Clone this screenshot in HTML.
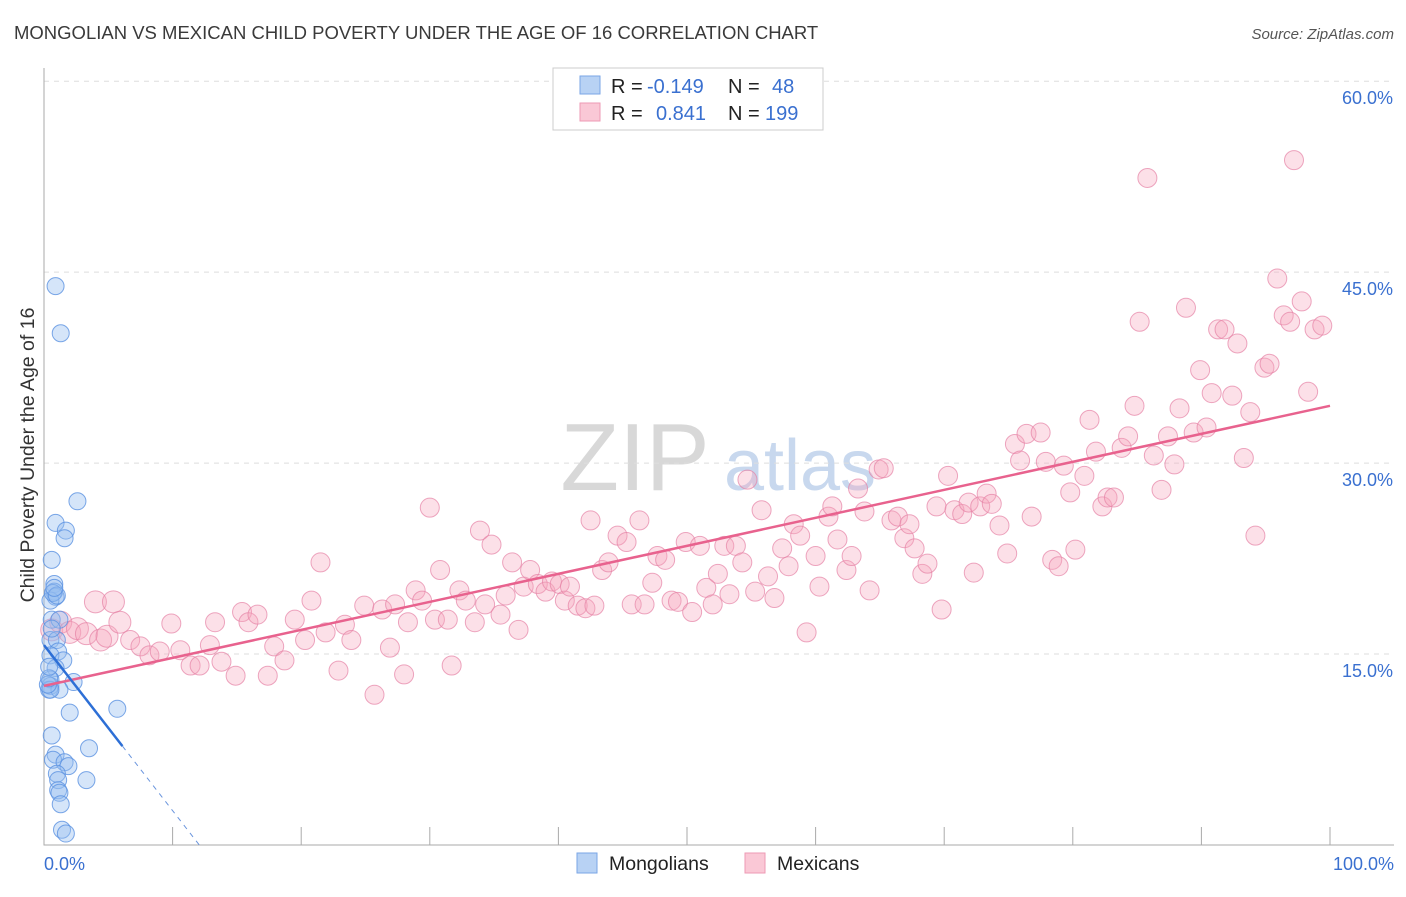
<!DOCTYPE html>
<html><head><meta charset="utf-8"><style>
body{margin:0;background:#fff;font-family:"Liberation Sans",sans-serif}
svg text{font-family:"Liberation Sans",sans-serif}
</style></head><body>
<svg id="chart" width="1406" height="892" xmlns="http://www.w3.org/2000/svg">
<text x="14" y="39" font-size="18.5" fill="#3a3a3a">MONGOLIAN VS MEXICAN CHILD POVERTY UNDER THE AGE OF 16 CORRELATION CHART</text>
<text x="1394" y="39" font-size="15" fill="#555" font-style="italic" text-anchor="end">Source: ZipAtlas.com</text>
<text transform="translate(34,455) rotate(-90)" font-size="19.5" fill="#333" text-anchor="middle">Child Poverty Under the Age of 16</text>
<g>
<text x="635" y="490" font-size="96" fill="#d8d8d8" font-family="Liberation Serif" text-anchor="middle">ZIP</text>
<text x="800" y="490" font-size="72" fill="#c8d8ee" text-anchor="middle">atlas</text>
</g>
<g id="grid"></g><g id="axes"></g><g id="pts"></g><g id="lines"></g>
<g>
<rect x="553" y="68" width="270" height="62" fill="#fff" stroke="#ccc"/>
<rect x="580" y="76" width="20" height="18" fill="#b8d2f4" stroke="#7aa6e6"/>
<rect x="580" y="103" width="20" height="18" fill="#fac8d6" stroke="#ee9ab4"/>
<text x="611" y="93" font-size="20" fill="#222">R =</text>
<text x="647" y="93" font-size="20" fill="#3a70d0">-0.149</text>
<text x="728" y="93" font-size="20" fill="#222">N =</text>
<text x="772" y="93" font-size="20" fill="#3a70d0">48</text>
<text x="611" y="120" font-size="20" fill="#222">R =</text>
<text x="656" y="120" font-size="20" fill="#3a70d0">0.841</text>
<text x="728" y="120" font-size="20" fill="#222">N =</text>
<text x="765" y="120" font-size="20" fill="#3a70d0">199</text>
</g>
<g>
<rect x="577" y="853" width="20" height="20" fill="#b8d2f4" stroke="#7aa6e6"/>
<text x="609" y="870" font-size="19.5" fill="#222">Mongolians</text>
<rect x="745" y="853" width="20" height="20" fill="#fac8d6" stroke="#ee9ab4"/>
<text x="777" y="870" font-size="19.5" fill="#222">Mexicans</text>
</g>
</svg>
<script>
const yTicks=[15,30,45,60];
const yTickLabels=["15.0%","30.0%","45.0%","60.0%"];
const xEndLabels=["0.0%","100.0%"];
const blueX=[0.9,1.3,2.6,0.9,1.7,1.6,0.6,0.8,0.8,0.9,0.5,0.6,1.2,0.5,1.0,1.1,0.5,1.5,0.9,0.5,0.5,0.4,2.3,1.2,2.0,5.7,0.6,3.5,0.9,0.7,1.6,1.9,1.0,1.1,3.3,1.1,1.2,1.3,1.4,1.7,0.5,0.7,0.3,0.4,1.0,0.8,0.6,0.4];
const blueY=[43.9,40.2,27.0,25.3,24.7,24.1,22.4,20.5,19.9,19.5,19.2,17.7,17.7,16.1,16.1,15.2,14.9,14.5,13.9,13.0,12.5,12.2,12.8,12.2,10.4,10.7,8.6,7.6,7.1,6.7,6.5,6.2,5.6,5.1,5.1,4.3,4.1,3.2,1.2,0.9,12.2,19.8,12.6,13.1,19.6,20.2,17.0,14.0];
const pinkX=[4.0,5.4,0.6,1.3,2.0,2.6,3.3,4.4,4.9,5.9,6.7,7.5,8.2,9.0,9.9,10.6,11.4,12.1,12.9,13.3,13.8,14.9,15.4,15.9,16.6,17.4,17.9,18.7,19.5,20.3,20.8,21.5,21.9,22.9,23.4,23.9,24.9,25.7,26.3,26.9,27.3,28.0,28.3,28.9,29.4,30.0,30.4,30.8,31.4,31.7,32.3,32.8,33.5,33.9,34.3,34.8,35.5,35.9,36.4,36.9,37.3,37.8,38.4,39.0,39.5,40.1,40.5,40.9,41.5,42.1,42.5,42.8,43.4,43.9,44.6,45.3,45.7,46.3,46.7,47.3,47.7,48.3,48.8,49.3,49.9,50.4,51.0,51.5,52.0,52.4,52.9,53.3,53.8,54.3,54.7,55.3,55.8,56.3,56.8,57.4,57.9,58.3,58.8,59.3,60.0,60.3,61.0,61.3,61.7,62.4,62.8,63.3,63.8,64.2,64.9,65.3,65.9,66.4,66.9,67.3,67.7,68.3,68.7,69.4,69.8,70.3,70.8,71.4,71.9,72.3,72.8,73.3,73.7,74.3,74.9,75.5,75.9,76.4,76.8,77.5,77.9,78.4,78.9,79.3,79.8,80.2,80.9,81.3,81.8,82.3,82.7,83.2,83.8,84.3,84.8,85.2,85.8,86.3,86.9,87.4,87.9,88.3,88.8,89.4,89.9,90.4,90.8,91.3,91.8,92.4,92.8,93.3,93.8,94.2,94.9,95.3,95.9,96.4,96.9,97.2,97.8,98.3,98.8,99.4];
const pinkY=[19.1,19.1,16.9,17.5,16.7,17.0,16.6,16.1,16.4,17.5,16.1,15.6,14.9,15.2,17.4,15.3,14.1,14.1,15.7,17.5,14.4,13.3,18.3,17.5,18.1,13.3,15.6,14.5,17.7,16.1,19.2,22.2,16.7,13.7,17.3,16.1,18.8,11.8,18.5,15.5,18.9,13.4,17.5,20.0,19.2,26.5,17.7,21.6,17.7,14.1,20.0,19.2,17.5,24.7,18.9,23.6,18.1,19.6,22.2,16.9,20.3,21.6,20.5,19.9,20.7,20.5,19.2,20.3,18.8,18.6,25.5,18.8,21.6,22.2,24.3,23.8,18.9,25.5,18.9,20.6,22.7,22.4,19.2,19.1,23.8,18.3,23.5,20.2,18.9,21.3,23.5,19.7,23.5,22.2,28.7,19.9,26.3,21.1,19.4,23.3,21.9,25.2,24.3,16.7,22.7,20.3,25.8,26.6,24.0,21.6,22.7,28.0,26.2,20.0,29.5,29.6,25.5,25.8,24.1,25.2,23.3,21.3,22.1,26.6,18.5,29.0,26.3,26.0,26.9,21.4,26.6,27.6,26.8,25.1,22.9,31.5,30.2,32.3,25.8,32.4,30.1,22.4,21.9,29.8,27.7,23.2,29.0,33.4,30.9,26.6,27.3,27.3,31.2,32.1,34.5,41.1,52.4,30.6,27.9,32.1,29.9,34.3,42.2,32.4,37.3,32.8,35.5,40.5,40.5,35.3,39.4,30.4,34.0,24.3,37.5,37.8,44.5,41.6,41.1,53.8,42.7,35.6,40.5,40.8];
const blueTrend=[15.7,-1.3];
const pinkTrend=[12.5,0.22];
const X0=44,X1=1330,YB=845,YPX=12.73;
const sx=v=>X0+v*(X1-X0)/100, sy=v=>YB-v*YPX;
const NS="http://www.w3.org/2000/svg";
function mk(tag,attrs,parent){const e=document.createElementNS(NS,tag);for(const k in attrs)e.setAttribute(k,attrs[k]);parent.appendChild(e);return e;}
const grid=document.getElementById('grid'),axes=document.getElementById('axes'),pts=document.getElementById('pts'),lines=document.getElementById('lines');
yTicks.forEach((t,i)=>{
 const l=mk('line',{x1:X0,x2:1394,y1:sy(t),y2:sy(t),stroke:'#ddd','stroke-dasharray':'5,5'},grid);
 
 
 const tx=mk('text',{x:1393,y:sy(t)+23,'font-size':18,fill:'#3a70d0','text-anchor':'end'},grid);
 tx.textContent=yTickLabels[i];
 
 
});
const ax=mk('path',{d:`M${X0},68V${YB}H1394`,stroke:'#aaa',fill:'none'},axes);


for(let i=1;i<=10;i++){const tk=mk('line',{x1:sx(i*10),x2:sx(i*10),y1:YB,y2:YB-18,stroke:'#aaa'},axes);
 
 }
[[0,'start',X0],[100,'end',1394]].forEach((d,i)=>{const t=mk('text',{x:d[2],y:870,'font-size':18,fill:'#3a70d0','text-anchor':d[1]},axes);t.textContent=xEndLabels[i];
 
 });
pinkX.forEach((x,i)=>{const c=mk('circle',{cx:sx(x),cy:sy(pinkY[i]),r:x<6?11:9.5,fill:'rgba(245,165,190,0.35)',stroke:'rgba(230,130,165,0.7)'},pts);
 
 });
blueX.forEach((x,i)=>{const c=mk('circle',{cx:sx(x),cy:sy(blueY[i]),r:8.5,fill:'rgba(150,190,240,0.4)',stroke:'rgba(90,145,225,0.8)'},pts);
 
 });
const pl=mk('line',{x1:sx(0),y1:sy(pinkTrend[0]),x2:sx(100),y2:sy(pinkTrend[0]+pinkTrend[1]*100),stroke:'#e8628e','stroke-width':2.5},lines);


const bEnd=6.1, bZero=-blueTrend[0]/blueTrend[1];
const bl=mk('line',{x1:sx(0),y1:sy(blueTrend[0]),x2:sx(bEnd),y2:sy(blueTrend[0]+blueTrend[1]*bEnd),stroke:'#2d6fd6','stroke-width':2.5},lines);


const bd=mk('line',{x1:sx(bEnd),y1:sy(blueTrend[0]+blueTrend[1]*bEnd),x2:sx(bZero),y2:sy(0),stroke:'#6a95dd','stroke-width':1,'stroke-dasharray':'5,5'},lines);


</script>
</body></html>
